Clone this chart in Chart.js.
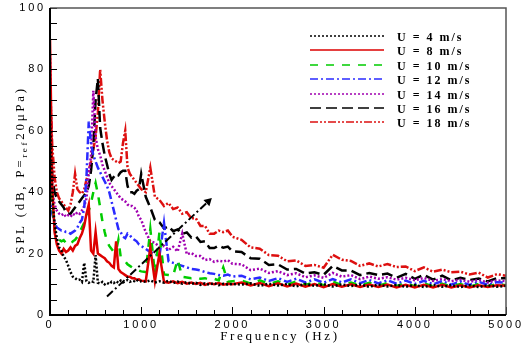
<!DOCTYPE html>
<html>
<head>
<meta charset="utf-8">
<script src="https://cdn.jsdelivr.net/npm/chart.js@4.4.1/dist/chart.umd.min.js"></script>
<style>
  html, body { margin: 0; padding: 0; background: #fff; }
</style>
</head>
<body>
<canvas id="spl" width="523" height="347"></canvas>
<script>
/* ---- data ---- */
const freqHz = [
  0, 25, 50, 75, 100, 125, 150, 175, 200, 225, 250, 275, 300, 325, 350, 375, 400, 425, 450, 475,
  500, 525, 550, 575, 600, 625, 650, 675, 700, 725, 750, 775, 800, 825, 850, 875, 900, 925, 950, 975, 1000,
  1050, 1100, 1150, 1200, 1250, 1300, 1350, 1400, 1450, 1500, 1550, 1600, 1650, 1700, 1750, 1800, 1850, 1900, 1950, 2000,
  2100, 2200, 2300, 2400, 2500, 2600, 2700, 2800, 2900, 3000, 3100, 3200, 3300, 3400, 3500, 3600, 3700, 3800, 3900, 4000,
  4100, 4200, 4300, 4400, 4500, 4600, 4700, 4800, 4900, 5000
];

const splU4 = [
  65, 38, 30, 25, 22, 21, 19, 18, 16, 14, 12.5, 12, 11.4, 11.5, 10.8, 17, 11, 10.5, 11, 10.8,
  19.5, 10.5, 10.2, 10.8, 10, 10.5, 10, 10.8, 10.4, 11, 10.5, 11.2, 10.6, 11, 11.4, 10.8, 11.2, 11, 11.5, 10.8, 11,
  10.8, 11.3, 10.6, 11, 10.5, 11.2, 10.4, 10.9, 10.2, 10.7, 10.1, 10.5, 9.8, 10.3, 9.9, 10.4, 9.7, 10.2, 9.9, 10.1,
  9.9, 10.3, 9.5, 10.2, 9.6, 10.1, 9.3, 10.1, 9.5, 10, 9.3, 10, 9.4, 9.9, 9.2, 9.9, 9.3, 9.8, 9.2, 9.8,
  9.1, 9.8, 9.2, 9.7, 9.1, 9.7, 9.1, 9.7, 9.2, 9.5
];
const splU8 = [
  90, 42, 27, 23, 21, 20, 21.5, 20.5, 21, 22, 21, 22.5, 23, 25, 26.5, 29, 33, 36, 21, 20,
  27, 20, 19.5, 19, 18.5, 17.5, 17, 16, 15.5, 24, 15, 14, 13.5, 13, 12.5, 12.5, 12, 12, 11.5, 11.6, 11.2,
  11, 22, 11, 20, 10.8, 10.5, 11, 10.4, 10.8, 10.2, 10.6, 10.1, 10.5, 9.8, 10.3, 10, 10.4, 9.9, 10.2, 10,
  10.6, 9.6, 10.4, 9.4, 10.3, 9.3, 10.2, 9.2, 10.1, 9.1, 10.1, 9.2, 10, 9.1, 9.9, 9.1, 9.9, 9, 9.8, 9,
  9.8, 9, 9.8, 9, 9.7, 9, 9.7, 9.1, 9.7, 9.5
];
const splU10 = [
  50, 36, 28, 25, 24.5, 24, 24.4, 23.5, 23.5, 23, 24, 24.5, 25.5, 27, 28.5, 30, 32, 34, 36.5, 40,
  43, 39.5, 35, 30.5, 27, 24, 22.5, 21.5, 20.5, 21, 24.5, 19, 18, 17.5, 16.5, 16, 15.5, 15, 14.8, 14.5, 14.2,
  14, 28, 13.5, 27, 13.2, 13, 12.8, 18, 12.4, 12.2, 12, 12.3, 11.8, 12, 11.5, 11.8, 11.3, 15.5, 10.8, 11,
  11.2, 10.2, 11.3, 10.1, 11, 9.9, 10.9, 9.8, 10.7, 9.7, 10.8, 9.8, 10.6, 9.6, 10.5, 9.5, 10.4, 9.5, 10.3, 9.4,
  10.3, 9.3, 10.2, 9.3, 10.1, 9.2, 10.1, 9.3, 10.1, 9.7
];
const splU12 = [
  55, 33, 30, 28.5, 28, 27.5, 27.5, 27, 27, 26.5, 27, 27.5, 28.5, 30, 31, 35, 45, 63, 56, 52,
  50, 48, 46.5, 45, 43.5, 42, 40, 37, 34, 31, 28, 27, 25.5, 25, 26.5, 26, 25, 24.5, 24, 23, 22.5,
  21.5, 20.5, 20, 19.2, 30, 17.5, 17, 16.5, 16, 15.5, 15, 14.8, 14.5, 14, 13.6, 13.4, 13, 12.8, 13.2, 12.5,
  12.8, 11.6, 12.2, 11.1, 12, 10.8, 11.8, 10.6, 11.6, 10.5, 11.7, 10.6, 11.6, 10.4, 11.4, 10.3, 11.3, 10.2, 11.2, 10.1,
  11.1, 10, 11, 9.9, 10.9, 9.8, 10.8, 9.8, 10.7, 10.5
];
const splU14 = [
  85, 40, 36, 34, 33, 32.5, 33, 32, 32.5, 32, 33, 32.5, 33.5, 33, 34, 35.5, 38, 46, 52, 73,
  58, 54, 52, 49, 47, 45, 43, 42, 41, 40, 39, 38, 37.5, 37, 36, 35.5, 35.5, 35, 34, 32, 31,
  27, 24, 23.5, 22.2, 22.5, 21.2, 22.2, 20.7, 26.5, 19.8, 20.2, 19.2, 19.2, 17.9, 18.2, 17.3, 17.7, 17.4, 17.9, 16.7,
  16.5, 14.6, 15.1, 13.7, 14.3, 13, 13.6, 12.3, 12.9, 12.1, 13.7, 12.5, 13, 11.7, 12.5, 11.8, 12.3, 11.5, 12.1, 11.3,
  12.1, 11.1, 11.7, 11, 11.5, 10.8, 11.4, 10.6, 11.3, 11
];
const splU16 = [
  68, 45, 40, 38, 37, 36, 35, 33.5, 33, 33, 34, 35, 36, 37, 38, 39, 40, 42, 47, 55,
  70, 77, 61, 56, 52, 49, 46, 44, 45, 46, 45.5, 46.5, 47, 47, 42, 40, 40, 39.5, 40.5, 41, 46,
  38.5, 35, 31, 30.2, 28.2, 28.9, 27.3, 27.9, 26.4, 26.9, 25.2, 25.6, 23.8, 24, 21.8, 21.8, 22.6, 21.9, 22.3, 20.8,
  20.5, 18.5, 18.3, 16.3, 16.5, 14.8, 15, 13.5, 13.9, 13.1, 16, 14.5, 14.5, 13, 13.7, 13, 13.5, 12.1, 13.4, 11.8,
  13.1, 11.5, 12.8, 11.3, 12.1, 11.4, 11.9, 10.9, 12, 12
];
const splU18 = [
  75, 55, 45, 40, 38, 37, 36, 35, 34, 36, 40, 46, 41, 40, 39.5, 41, 44, 47, 50, 54,
  58, 66, 80, 70, 63, 57, 53, 51, 50.5, 50, 49.5, 50, 56, 60, 48, 46, 45, 44, 43, 42, 41,
  40, 48, 38.5, 37.5, 35.5, 36.5, 34.5, 35, 33, 33.5, 31.5, 31.5, 29, 29, 26.5, 26.5, 27.5, 27, 27.5, 25.5,
  24.5, 22, 21.6, 19.5, 19.3, 17.5, 17.8, 16, 16.3, 15.4, 19.6, 18, 17.6, 16, 16.8, 15.8, 16.6, 15.6, 15.8, 14.3,
  15.5, 14.1, 14.8, 13.9, 14.1, 13.2, 13.8, 12.2, 13.3, 12.8
];

const seriesLabels = ['U = 4 m/s', 'U = 8 m/s', 'U = 10 m/s', 'U = 12 m/s', 'U = 14 m/s', 'U = 16 m/s', 'U = 18 m/s'];
const seriesValues = [splU4, splU8, splU10, splU12, splU14, splU16, splU18];

// trend arrow (tail and head), Hz / dB
const arrowHz = [625, 1735];
const arrowDb = [6, 37];

const yTicks = [0, 20, 40, 60, 80, 100];
const xTicks = [0, 1000, 2000, 3000, 4000, 5000];

/* ---- styles ---- */
const seriesStyles = [
  { color: '#000000', dash: [2, 2] },
  { color: '#dd0000', dash: [] },
  { color: '#00cc00', dash: [8, 8] },
  { color: '#2a2aff', dash: [8, 3, 2, 3] },
  { color: '#a000b0', dash: [2, 2] },
  { color: '#000000', dash: [11, 5] },
  { color: '#dd1010', dash: [8, 2, 2, 2, 2, 2] }
];

const datasets = [{
  label: 'arrow',
  data: arrowHz.map((f, i) => ({ x: f, y: arrowDb[i] })),
  borderColor: '#000',
  backgroundColor: '#000',
  borderWidth: 2,
  borderDash: [8, 3, 2, 3],
  pointRadius: [0, 5],
  pointStyle: 'triangle',
  pointRotation: [0, 47],
  pointBackgroundColor: '#000',
  pointBorderWidth: 0
}];
seriesValues.forEach((vals, k) => {
  datasets.push({
    label: seriesLabels[k],
    data: freqHz.map((f, i) => ({ x: f, y: vals[i] })),
    borderColor: seriesStyles[k].color,
    borderDash: seriesStyles[k].dash,
    borderWidth: 2.5,
    pointRadius: 0,
    tension: 0
  });
});

/* ---- frame, inward ticks, titles, legend ---- */
const decor = {
  id: 'decor',
  beforeDraw(chart) {
    chart.ctx.letterSpacing = '2.8px';
  },
  afterDraw(chart) {
    const ctx = chart.ctx;
    const a = chart.chartArea;
    const xs = chart.scales.x, ys = chart.scales.y;
    ctx.save();
    ctx.setLineDash([]);
    ctx.strokeStyle = '#000';
    ctx.lineWidth = 1;
    for (let v = 0; v <= 100; v += 5) {
      const y = Math.round(ys.getPixelForValue(v)) + 0.5;
      ctx.beginPath(); ctx.moveTo(a.left, y); ctx.lineTo(a.left + 7, y); ctx.stroke();
    }
    for (let f = 0; f <= 5000; f += 200) {
      const x = Math.round(xs.getPixelForValue(f)) + 0.5;
      const len = f % 1000 === 0 ? 8 : 5;
      ctx.beginPath(); ctx.moveTo(x, a.bottom); ctx.lineTo(x, a.bottom - len); ctx.stroke();
    }
    // box
    ctx.strokeStyle = '#555';
    ctx.lineWidth = 1.5;
    ctx.beginPath();
    ctx.moveTo(a.left, a.top); ctx.lineTo(a.right, a.top); ctx.lineTo(a.right, a.bottom);
    ctx.stroke();
    ctx.strokeStyle = '#000';
    ctx.lineWidth = 2;
    ctx.beginPath();
    ctx.moveTo(a.left, a.top); ctx.lineTo(a.left, a.bottom); ctx.lineTo(a.right, a.bottom);
    ctx.stroke();

    // x title
    ctx.fillStyle = '#000';
    ctx.font = '13px "Liberation Serif", "Times New Roman", serif';
    ctx.letterSpacing = '2.7px';
    ctx.textAlign = 'center';
    ctx.textBaseline = 'alphabetic';
    ctx.fillText('Frequency (Hz)', (a.left + a.right) / 2 + 2, 340);

    // y title with subscript
    ctx.save();
    ctx.translate(24, 170);
    ctx.rotate(-Math.PI / 2);
    ctx.textAlign = 'left';
    const big = '13px "Liberation Serif", "Times New Roman", serif';
    const small = '9px "Liberation Serif", "Times New Roman", serif';
    const p1 = 'SPL (dB, P=', p2 = 'ref', p3 = '20\u03bcPa)';
    ctx.font = big; const w1 = ctx.measureText(p1).width, w3 = ctx.measureText(p3).width;
    ctx.font = small; const w2 = ctx.measureText(p2).width;
    let x0 = -(w1 + w2 + w3) / 2;
    ctx.font = big; ctx.fillText(p1, x0, 0);
    ctx.font = small; ctx.fillText(p2, x0 + w1, 3);
    ctx.font = big; ctx.fillText(p3, x0 + w1 + w2, 0);
    ctx.restore();

    // legend
    ctx.font = 'bold 12px "Liberation Serif", "Times New Roman", serif';
    ctx.letterSpacing = '2px';
    ctx.textAlign = 'left';
    seriesLabels.forEach((lab, i) => {
      const y = Math.round(36 + i * 14.4);
      ctx.strokeStyle = seriesStyles[i].color;
      ctx.lineWidth = 1.5;
      ctx.setLineDash(seriesStyles[i].dash);
      ctx.beginPath(); ctx.moveTo(310, y); ctx.lineTo(384, y); ctx.stroke();
      ctx.fillStyle = '#000';
      ctx.fillText(lab, 397, y + 4.5);
    });
    ctx.restore();
  }
};

new Chart(document.getElementById('spl'), {
  type: 'line',
  data: { datasets },
  plugins: [decor],
  options: {
    responsive: false,
    animation: false,
    devicePixelRatio: 1,
    layout: { padding: { left: 0, right: 17, top: 8, bottom: 0 } },
    plugins: { legend: { display: false }, tooltip: { enabled: false } },
    scales: {
      x: {
        type: 'linear', min: 0, max: 5000,
        afterBuildTicks(s) { s.ticks = xTicks.map(v => ({ value: v })); },
        ticks: { color: '#000', padding: 3, maxRotation: 0, callback: v => String(v),
                 font: { family: '"Liberation Sans", Arial, sans-serif', size: 11 } },
        grid: { display: false, drawTicks: false },
        border: { display: false },
        afterFit(s) { s.height = 32; s.paddingLeft = 0; s.paddingRight = 0; }
      },
      y: {
        type: 'linear', min: 0, max: 100,
        afterBuildTicks(s) { s.ticks = yTicks.map(v => ({ value: v })); },
        ticks: { color: '#000', padding: 4, callback: v => String(v),
                 font: { family: '"Liberation Sans", Arial, sans-serif', size: 11 } },
        grid: { display: false, drawTicks: false },
        border: { display: false },
        afterFit(s) { s.width = 50; s.paddingTop = 0; s.paddingBottom = 0; }
      }
    }
  }
});
</script>
</body>
</html>
